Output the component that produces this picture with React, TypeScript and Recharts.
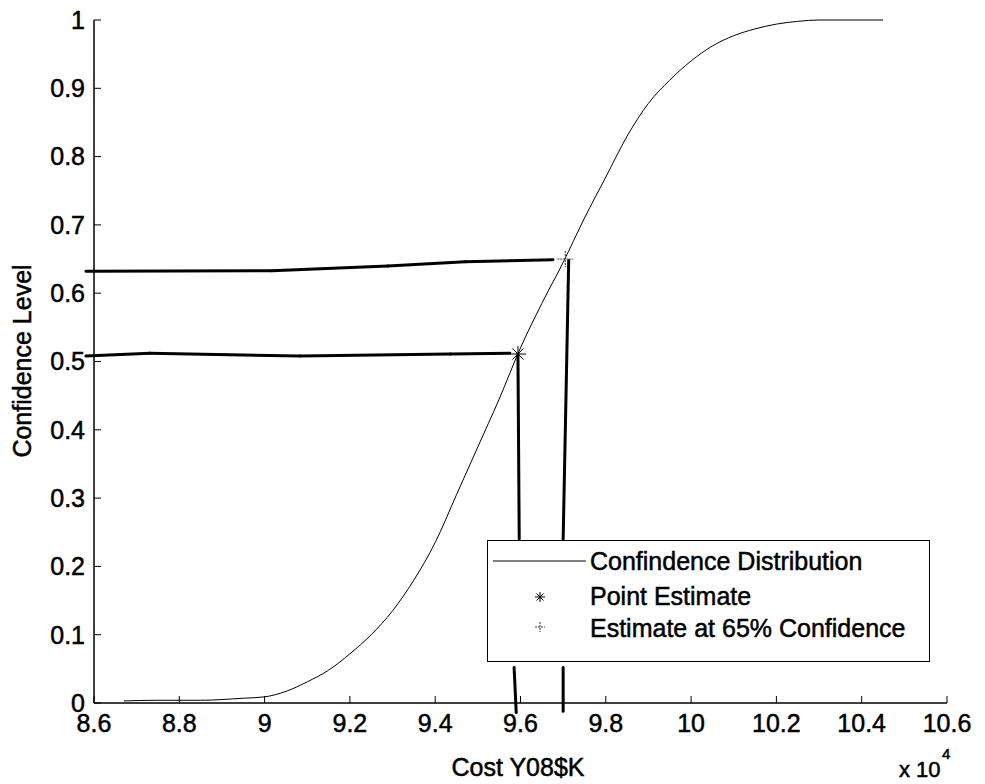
import { ComposedChart, Line, Scatter, XAxis, YAxis, ReferenceLine, Legend, Label } from 'recharts';

const FONT = '"Liberation Sans", Arial, Helvetica, sans-serif';

// confidence distribution (cost in units of 10^4 Y08$K)
const costX = [8.67, 8.75, 8.85, 8.95, 9.0, 9.05, 9.1, 9.15, 9.2, 9.25, 9.3, 9.35, 9.4, 9.45, 9.5, 9.55, 9.6, 9.65, 9.7, 9.75, 9.8, 9.85, 9.9, 9.95, 10.0, 10.05, 10.1, 10.15, 10.2, 10.25, 10.3, 10.45];
const confY = [0.003, 0.004, 0.004, 0.007, 0.009, 0.017, 0.031, 0.048, 0.072, 0.1, 0.135, 0.18, 0.235, 0.305, 0.375, 0.445, 0.52, 0.585, 0.645, 0.71, 0.77, 0.83, 0.878, 0.912, 0.94, 0.962, 0.977, 0.987, 0.994, 0.998, 1.0, 1.0];

const xTicks = [8.6, 8.8, 9, 9.2, 9.4, 9.6, 9.8, 10, 10.2, 10.4, 10.6];
const yTicks = [0, 0.1, 0.2, 0.3, 0.4, 0.5, 0.6, 0.7, 0.8, 0.9, 1];

const pointEstimate = [{ x: 9.594, y: 0.511 }];
const estimate65 = [{ x: 9.705, y: 0.65 }];

// hand drawn pen marks on the printout
const mark65X = [8.581, 9.017, 9.289, 9.47, 9.676];
const mark65Y = [0.632, 0.633, 0.64, 0.646, 0.649];
const mark50X = [8.581, 8.731, 9.083, 9.435, 9.575];
const mark50Y = [0.508, 0.512, 0.508, 0.511, 0.512];
const dropPointX = [9.594, 9.597, 9.585, 9.59];
const dropPointY = [0.511, 0.24, 0.052, -0.014];
const drop65X = [9.713, 9.7, 9.7, 9.7];
const drop65Y = [0.648, 0.24, 0.052, -0.012];

const curve = costX.map((x, i) => ({ x, y: confY[i] }));

const toSegments = (xs: number[], ys: number[], breakAt?: number) => {
  const segs = [];
  for (let i = 0; i < xs.length - 1; i++) {
    if (breakAt !== undefined && i === breakAt) continue;
    segs.push([{ x: xs[i], y: ys[i] }, { x: xs[i + 1], y: ys[i + 1] }]);
  }
  return segs;
};

const penSegments = [
  ...toSegments(mark65X, mark65Y),
  ...toSegments(mark50X, mark50Y),
  ...toSegments(dropPointX, dropPointY, 1),
  ...toSegments(drop65X, drop65Y, 1),
];

const Asterisk = ({ cx, cy, r = 7, color = '#000' }: any) => (
  <g stroke={color} strokeWidth={1}>
    <line x1={cx - r} x2={cx + r} y1={cy} y2={cy} />
    <line x1={cx} x2={cx} y1={cy - r} y2={cy + r} />
    <line x1={cx - r * 0.7} x2={cx + r * 0.7} y1={cy - r * 0.7} y2={cy + r * 0.7} />
    <line x1={cx - r * 0.7} x2={cx + r * 0.7} y1={cy + r * 0.7} y2={cy - r * 0.7} />
  </g>
);

const Plus = ({ cx, cy, r = 7, color = '#333' }: any) => (
  <g stroke={color} strokeWidth={1} strokeDasharray="2 1">
    <line x1={cx - r} x2={cx + r} y1={cy} y2={cy} />
    <line x1={cx} x2={cx} y1={cy - r} y2={cy + r} />
  </g>
);

const INK = { fill: '#000', stroke: '#000', strokeWidth: 0.5 };

const LegendBox = () => (
  <svg width={443} height={122} style={{ display: 'block' }}>
    <rect x={0.5} y={0.5} width={442} height={121} fill="#fff" stroke="#000" />
    <line x1={6} x2={99} y1={21} y2={21} stroke="#000" />
    <Asterisk cx={53} cy={57} r={5} />
    <Plus cx={53} cy={87} r={5} />
    <g fontFamily={FONT} fontSize={25} {...INK}>
      <text x={103} y={30}>Confindence Distribution</text>
      <text x={103} y={65}>Point Estimate</text>
      <text x={103} y={97}>Estimate at 65% Confidence</text>
    </g>
  </svg>
);

export default function App() {
  const tickStyle = { fontSize: 25, fontFamily: FONT, ...INK };
  return (
    <div style={{ position: 'absolute', left: 0, top: 0, width: 985, height: 784, background: '#fff' }}>
      <ComposedChart width={985} height={784} margin={{ top: 20, right: 38, bottom: 0, left: 0 }}>
        <XAxis
          type="number"
          dataKey="x"
          domain={[8.6, 10.6]}
          ticks={xTicks}
          tickFormatter={(v: number) => String(v)}
          height={81}
          tickSize={-7}
          tickMargin={18}
          tick={tickStyle}
          axisLine={{ stroke: '#000', strokeWidth: 1.5 }}
          tickLine={{ stroke: '#000' }}
        >
          <Label
            content={() => (
              <g fontFamily={FONT} {...INK}>
                <text x={518} y={776} fontSize={25} textAnchor="middle">Cost Y08$K</text>
                <text x={899} y={777} fontSize={22}>x 10</text>
                <text x={942} y={759} fontSize={15}>4</text>
              </g>
            )}
          />
        </XAxis>
        <YAxis
          type="number"
          domain={[0, 1]}
          ticks={yTicks}
          tickFormatter={(v: number) => String(v)}
          width={94}
          tickSize={-7}
          tickMargin={16}
          tick={tickStyle}
          axisLine={{ stroke: '#000', strokeWidth: 1.5 }}
          tickLine={{ stroke: '#000' }}
        >
          <Label
            content={() => (
              <text
                x={22}
                y={361}
                transform="rotate(-90 22 361)"
                textAnchor="middle"
                dominantBaseline="central"
                fontFamily={FONT}
                fontSize={25}
                {...INK}
              >
                Confidence Level
              </text>
            )}
          />
        </YAxis>
        {penSegments.map((seg, i) => (
          <ReferenceLine
            key={i}
            segment={seg}
            ifOverflow="visible"
            stroke="#000"
            strokeWidth={3}
            strokeLinecap="round"
          />
        ))}
        <Line
          data={curve}
          dataKey="y"
          type="monotone"
          stroke="#000"
          strokeWidth={1}
          dot={false}
          isAnimationActive={false}
          name="Confindence Distribution"
        />
        <Scatter
          data={pointEstimate}
          dataKey="y"
          isAnimationActive={false}
          shape={(p: any) => <Asterisk cx={p.cx} cy={p.cy} r={8} />}
          name="Point Estimate"
        />
        <Scatter
          data={estimate65}
          dataKey="y"
          isAnimationActive={false}
          shape={(p: any) => <Plus cx={p.cx} cy={p.cy} r={8} />}
          name="Estimate at 65% Confidence"
        />
        <Legend
          layout="vertical"
          align="center"
          verticalAlign="middle"
          content={() => <LegendBox />}
          wrapperStyle={{ left: 487, top: 540, width: 443, height: 122 }}
        />
      </ComposedChart>
    </div>
  );
}
